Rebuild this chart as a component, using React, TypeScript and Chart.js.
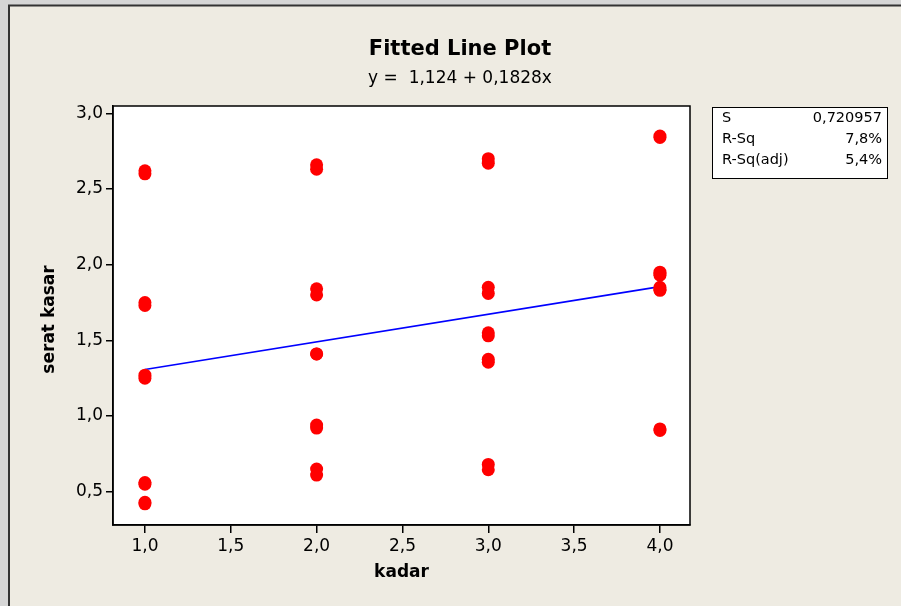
import React, { useEffect, useRef } from "react";
import { Chart, registerables } from "chart.js";

Chart.register(...registerables);

// ---- data ----
const pointX = [
  1, 1, 1, 1, 1, 1, 1, 1, 1, 1,
  2, 2, 2, 2, 2, 2, 2, 2, 2, 2,
  3, 3, 3, 3, 3, 3, 3, 3, 3, 3,
  4, 4, 4, 4, 4, 4, 4, 4, 4, 4,
];
const pointY = [
  2.6, 2.62, 1.73, 1.75, 1.25, 1.27, 0.55, 0.56, 0.42, 0.43,
  2.63, 2.66, 1.8, 1.84, 1.41, 1.41, 0.92, 0.94, 0.61, 0.65,
  2.67, 2.7, 1.81, 1.85, 1.53, 1.55, 1.355, 1.375, 0.645, 0.68,
  2.84, 2.85, 1.95, 1.94, 1.93, 1.85, 1.835, 1.83, 0.905, 0.915,
];
const fitX = [1, 4];
const fitY = [1.307, 1.855];

const xTickValues = [1, 1.5, 2, 2.5, 3, 3.5, 4];
const xTickLabels = ["1,0", "1,5", "2,0", "2,5", "3,0", "3,5", "4,0"];
const yTickValues = [0.5, 1, 1.5, 2, 2.5, 3];
const yTickLabels = ["0,5", "1,0", "1,5", "2,0", "2,5", "3,0"];

const titleText = "Fitted Line Plot";
const subtitleText = "y =  1,124 + 0,1828x";
const xAxisTitle = "kadar";
const yAxisTitle = "serat kasar";
const statNames = ["S", "R-Sq", "R-Sq(adj)"];
const statValues = ["0,720957", "7,8%", "5,4%"];

const FONT = "'DejaVu Sans', Verdana, sans-serif";

const decorPlugin = {
  id: "decor",
  beforeDraw(chart: any) {
    const { ctx, width, height, chartArea } = chart;
    ctx.save();
    ctx.fillStyle = "#d6d6d6";
    ctx.fillRect(0, 0, width, height);
    ctx.fillStyle = "#eeebe2";
    ctx.fillRect(9, 6, width - 9, height - 6);
    ctx.strokeStyle = "#333333";
    ctx.lineWidth = 2;
    ctx.beginPath();
    ctx.moveTo(9, height);
    ctx.lineTo(9, 5.5);
    ctx.lineTo(width, 5.5);
    ctx.stroke();
    ctx.fillStyle = "#ffffff";
    ctx.fillRect(chartArea.left, chartArea.top, chartArea.right - chartArea.left, chartArea.bottom - chartArea.top);
    ctx.restore();
  },
  afterDraw(chart: any) {
    const { ctx, chartArea } = chart;
    ctx.save();
    // plot frame
    ctx.strokeStyle = "#000000";
    ctx.lineWidth = 1.5;
    ctx.strokeRect(chartArea.left, chartArea.top, chartArea.right - chartArea.left, chartArea.bottom - chartArea.top);

    ctx.fillStyle = "#000000";
    ctx.textAlign = "center";
    ctx.textBaseline = "middle";
    // title
    ctx.font = `bold 21px ${FONT}`;
    ctx.fillText(titleText, 460, 50);
    ctx.font = `17px ${FONT}`;
    ctx.fillText(subtitleText, 460, 79);
    // axis titles
    ctx.font = `bold 17px ${FONT}`;
    ctx.fillText(xAxisTitle, (chartArea.left + chartArea.right) / 2, 573);
    ctx.save();
    ctx.translate(50, (chartArea.top + chartArea.bottom) / 2 + 4);
    ctx.rotate(-Math.PI / 2);
    ctx.fillText(yAxisTitle, 0, 0);
    ctx.restore();

    // stats box
    const bx = 712, by = 107, bw = 175, bh = 71;
    ctx.fillStyle = "#ffffff";
    ctx.fillRect(bx, by, bw, bh);
    ctx.strokeStyle = "#000000";
    ctx.lineWidth = 1;
    ctx.strokeRect(bx + 0.5, by + 0.5, bw, bh);
    ctx.fillStyle = "#000000";
    ctx.font = `14.5px ${FONT}`;
    const rowY = [118, 139, 160];
    statNames.forEach((n, i) => {
      ctx.textAlign = "left";
      ctx.fillText(n, bx + 10, rowY[i]);
      ctx.textAlign = "right";
      ctx.fillText(statValues[i], bx + bw - 5, rowY[i]);
    });
    ctx.restore();
  },
};

export default function App() {
  const ref = useRef<HTMLCanvasElement | null>(null);
  useEffect(() => {
    document.body.style.margin = "0";
    const canvas = ref.current!;
    const points = pointX.map((x, i) => ({ x, y: pointY[i] }));
    const fit = fitX.map((x, i) => ({ x, y: fitY[i] }));
    const chart = new Chart(canvas, {
      type: "scatter",
      data: {
        datasets: [
          {
            type: "scatter",
            data: points,
            backgroundColor: "#ff0000",
            borderColor: "#ff0000",
            borderWidth: 0,
            pointRadius: 6.5,
          },
          {
            type: "line",
            data: fit,
            borderColor: "#0000ff",
            borderWidth: 1.6,
            pointRadius: 0,
            fill: false,
          },
        ],
      } as any,
      options: {
        responsive: false,
        animation: false,
        layout: { padding: { top: 106, right: 211, left: 0, bottom: 0 } },
        plugins: {
          legend: { display: false },
          tooltip: { enabled: false },
          title: { display: false },
        },
        scales: {
          x: {
            type: "linear",
            min: 0.814,
            max: 4.175,
            afterBuildTicks: (s: any) => {
              s.ticks = xTickValues.map((v) => ({ value: v }));
            },
            afterFit: (s: any) => {
              s.height = 81;
            },
            ticks: {
              callback: (_v: any, i: number) => xTickLabels[i],
              color: "#000000",
              font: { family: FONT, size: 17 },
              padding: 3,
              maxRotation: 0,
              autoSkip: false,
            },
            grid: { drawOnChartArea: false, drawTicks: true, tickLength: 8, color: "#000000", lineWidth: 1.5 },
            border: { display: true, color: "#000000", width: 1.5 },
          },
          y: {
            type: "linear",
            min: 0.28,
            max: 3.048,
            afterBuildTicks: (s: any) => {
              s.ticks = yTickValues.map((v) => ({ value: v }));
            },
            afterFit: (s: any) => {
              s.width = 113;
            },
            ticks: {
              callback: (_v: any, i: number) => yTickLabels[i],
              color: "#000000",
              font: { family: FONT, size: 17 },
              padding: 3,
              autoSkip: false,
            },
            grid: { drawOnChartArea: false, drawTicks: true, tickLength: 7, color: "#000000", lineWidth: 1.5 },
            border: { display: true, color: "#000000", width: 1.5 },
          },
        },
      } as any,
      plugins: [decorPlugin],
    });
    return () => chart.destroy();
  }, []);
  return <canvas ref={ref} width={901} height={606} style={{ display: "block" }} />;
}
